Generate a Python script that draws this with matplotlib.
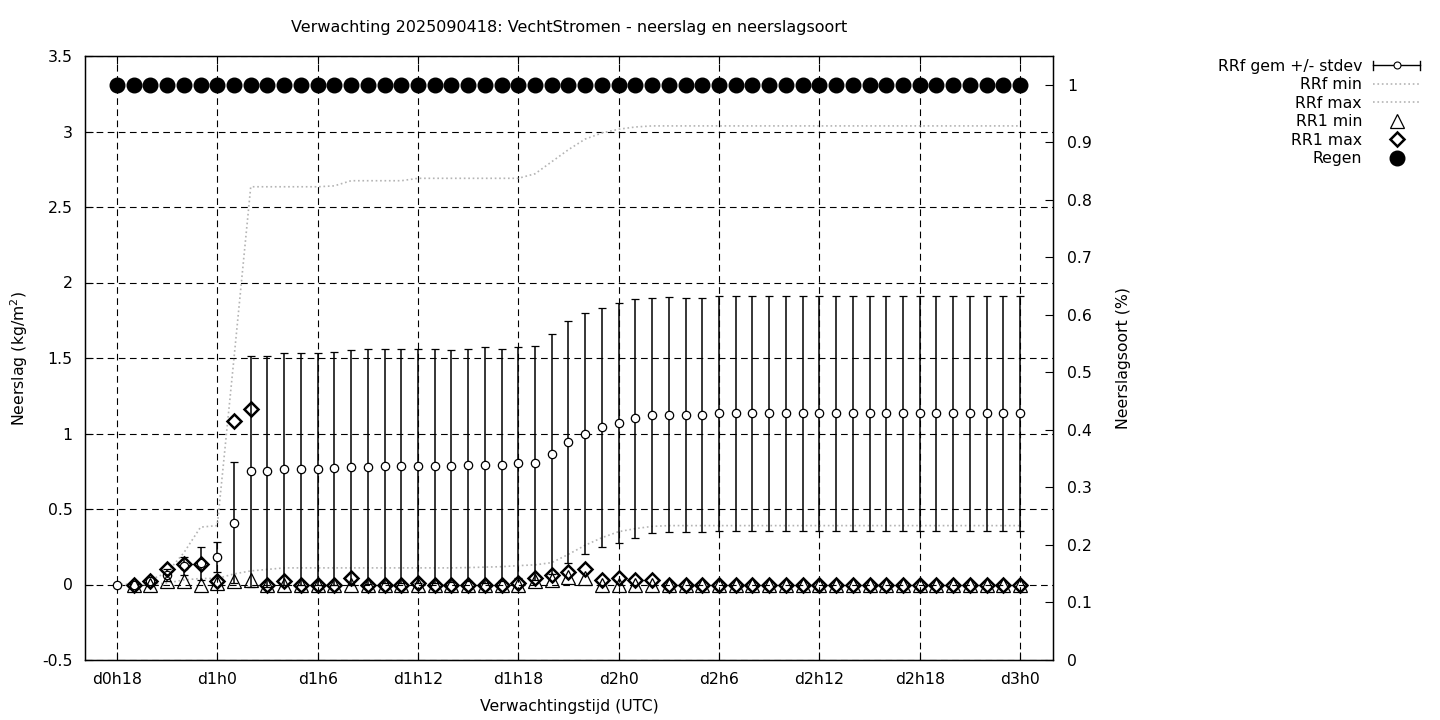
import numpy as np
import matplotlib
matplotlib.use('Agg')
import matplotlib.pyplot as plt
from matplotlib.lines import Line2D
from matplotlib.ticker import FuncFormatter

plt.rcParams['axes.unicode_minus'] = False
plt.rcParams['font.family'] = ['DejaVu Sans']

# uren na de run van 2025090418 (d0h18 .. d3h0)
uren = list(range(18, 73))

# RRf gemiddelde en standaarddeviatie (kg/m2)
rrf_gem = [0.0, 0.0, 0.02, 0.06, 0.12, 0.14, 0.18, 0.41, 0.75, 0.75,
           0.765, 0.765, 0.765, 0.77, 0.775, 0.78, 0.783, 0.783, 0.783, 0.783,
           0.783, 0.79, 0.79, 0.79, 0.805, 0.805, 0.864, 0.944, 1.0, 1.04,
           1.067, 1.10, 1.12, 1.125, 1.125, 1.125, 1.134, 1.134, 1.134, 1.134,
           1.134, 1.134, 1.134, 1.134, 1.134, 1.134, 1.134, 1.134, 1.134, 1.134,
           1.134, 1.134, 1.134, 1.134, 1.134]
rrf_std = [0.0, 0.01, 0.02, 0.04, 0.06, 0.11, 0.10, 0.40, 0.765, 0.765,
           0.765, 0.765, 0.765, 0.77, 0.775, 0.777, 0.774, 0.774, 0.774, 0.774,
           0.767, 0.767, 0.78, 0.767, 0.765, 0.772, 0.796, 0.80, 0.80, 0.79,
           0.795, 0.79, 0.78, 0.777, 0.775, 0.775, 0.779, 0.779, 0.779, 0.779,
           0.779, 0.779, 0.779, 0.779, 0.779, 0.779, 0.779, 0.779, 0.779, 0.779,
           0.779, 0.779, 0.779, 0.779, 0.779]

# RRf min / max (kg/m2)
rrf_min = [0.0, 0.0, 0.0, 0.01, 0.03, 0.04, 0.04, 0.07, 0.09, 0.10,
           0.11, 0.11, 0.11, 0.11, 0.11, 0.11, 0.11, 0.11, 0.11, 0.11,
           0.11, 0.112, 0.115, 0.118, 0.125, 0.13, 0.145, 0.20, 0.26, 0.31,
           0.35, 0.37, 0.385, 0.39, 0.39, 0.39, 0.39, 0.39, 0.39, 0.39,
           0.39, 0.39, 0.39, 0.39, 0.39, 0.39, 0.39, 0.39, 0.39, 0.39,
           0.39, 0.39, 0.39, 0.39, 0.39]
rrf_max = [0.0, 0.0, 0.03, 0.08, 0.21, 0.38, 0.39, 1.5, 2.634, 2.634,
           2.634, 2.634, 2.634, 2.64, 2.674, 2.674, 2.674, 2.674, 2.69, 2.69,
           2.69, 2.69, 2.69, 2.69, 2.69, 2.72, 2.80, 2.88, 2.95, 2.99,
           3.015, 3.03, 3.037, 3.037, 3.037, 3.037, 3.037, 3.037, 3.037, 3.037,
           3.037, 3.037, 3.037, 3.037, 3.037, 3.037, 3.037, 3.037, 3.037, 3.037,
           3.037, 3.037, 3.037, 3.037, 3.037]

# RR1 min / max (kg/m2), geen waarde op d0h18
nan = np.nan
rr1_min = [nan, 0.0, 0.0, 0.02, 0.02, 0.0, 0.01, 0.02, 0.03, 0.0,
           0.0, 0.0, 0.0, 0.0, 0.0, 0.0, 0.0, 0.0, 0.0, 0.0,
           0.0, 0.0, 0.0, 0.0, 0.0, 0.02, 0.03, 0.05, 0.04, 0.0,
           0.0, 0.0, 0.0, 0.0, 0.0, 0.0, 0.0, 0.0, 0.0, 0.0,
           0.0, 0.0, 0.0, 0.0, 0.0, 0.0, 0.0, 0.0, 0.0, 0.0,
           0.0, 0.0, 0.0, 0.0, 0.0]
rr1_max = [nan, 0.0, 0.02, 0.10, 0.135, 0.135, 0.02, 1.08, 1.16, 0.0,
           0.02, 0.0, 0.0, 0.0, 0.04, 0.0, 0.0, 0.0, 0.01, 0.0,
           0.0, 0.0, 0.0, 0.0, 0.01, 0.04, 0.06, 0.08, 0.10, 0.03,
           0.04, 0.03, 0.03, 0.0, 0.0, 0.0, 0.0, 0.0, 0.0, 0.0,
           0.0, 0.0, 0.0, 0.0, 0.0, 0.0, 0.0, 0.0, 0.0, 0.0,
           0.0, 0.0, 0.0, 0.0, 0.0]

# neerslagsoort regen (fractie)
regen = [1, 1, 1, 1, 1, 1, 1, 1, 1, 1,
         1, 1, 1, 1, 1, 1, 1, 1, 1, 1,
         1, 1, 1, 1, 1, 1, 1, 1, 1, 1,
         1, 1, 1, 1, 1, 1, 1, 1, 1, 1,
         1, 1, 1, 1, 1, 1, 1, 1, 1, 1,
         1, 1, 1, 1, 1]

xticks = [18, 24, 30, 36, 42, 48, 54, 60, 66, 72]
xlabels = ['d0h18', 'd1h0', 'd1h6', 'd1h12', 'd1h18',
           'd2h0', 'd2h6', 'd2h12', 'd2h18', 'd3h0']


class ErrorbarHandler:
    # horizontale foutbalk zoals in gnuplot
    def legend_artist(self, legend, orig_handle, fontsize, handlebox):
        x0 = -handlebox.xdescent
        w = handlebox.width
        yc = -handlebox.ydescent + handlebox.height / 2
        tr = handlebox.get_transform()
        lijn = Line2D([x0, x0 + w], [yc, yc], color='k', lw=1, transform=tr)
        handlebox.add_artist(lijn)
        for xc in (x0, x0 + w):
            handlebox.add_artist(Line2D([xc, xc], [yc - 3, yc + 3], color='k',
                                        lw=1, transform=tr))
        handlebox.add_artist(Line2D([x0 + w / 2], [yc], marker='o', ms=5,
                                    mfc='white', mec='k', mew=0.8,
                                    transform=tr))
        return lijn


fig = plt.figure(figsize=(14.4, 7.2), dpi=100)
ax = fig.add_axes([85 / 1440, 60 / 720, 968 / 1440, 604 / 720])
ax2 = ax.twinx()

ax.errorbar(uren, rrf_gem, yerr=rrf_std, fmt='o', ms=6, mfc='white', mec='k',
            mew=0.9, ecolor='k', elinewidth=1.1, capsize=3, capthick=1.1,
            zorder=3)
l_min, = ax.plot(uren, rrf_min, color='#b4b4b4', ls=':', lw=1.2, zorder=2)
l_max, = ax.plot(uren, rrf_max, color='#b4b4b4', ls=':', lw=1.2, zorder=2)
l_tri, = ax.plot(uren, rr1_min, ls='none', marker='^', ms=10, mfc='none',
                 mec='k', mew=0.9, zorder=4)
l_dia, = ax.plot(uren, rr1_max, ls='none', marker='D', ms=7.5, mfc='none',
                 mec='k', mew=1.8, zorder=5)
l_reg, = ax2.plot(uren, regen, ls='none', marker='o', ms=10.5, color='k')

ax.set_xlim(16.09, 73.97)
ax.set_ylim(-0.5, 3.5)
ax2.set_ylim(0, 1.05)

ax.set_xticks(xticks)
ax.set_xticklabels(xlabels)
ax.set_yticks(np.arange(-0.5, 3.51, 0.5))
ax2.set_yticks(np.arange(0, 1.01, 0.1))
fmt = FuncFormatter(lambda v, p: '%g' % round(v, 2))
ax.yaxis.set_major_formatter(fmt)
ax2.yaxis.set_major_formatter(fmt)

ax.grid(True, color='k', ls=(0, (6, 4)), lw=0.8)
ax.tick_params(direction='in', length=6, top=True, right=False,
               labelsize=11.3, pad=9)
ax2.tick_params(direction='in', length=6, labelsize=11.3, pad=10)
for sp in ax.spines.values():
    sp.set_linewidth(1)

ax.set_title('Verwachting 2025090418: VechtStromen - neerslag en neerslagsoort',
             fontsize=11.5, pad=17)
ax.set_xlabel('Verwachtingstijd (UTC)', fontsize=11.3)
ax.xaxis.set_label_coords(0.5, -0.064)
ax.set_ylabel('Neerslag (kg/m$^2$)', fontsize=11.3)
ax.yaxis.set_label_coords(-0.057, 0.5)
ax2.set_ylabel('Neerslagsoort (%)', fontsize=11.3)
ax2.yaxis.set_label_coords(1.065, 0.5)

h_err = Line2D([], [])
fig.legend([h_err, l_min, l_max, l_tri, l_dia, l_reg],
           ['RRf gem +/- stdev', 'RRf min', 'RRf max', 'RR1 min', 'RR1 max', 'Regen'],
           loc='upper right', bbox_to_anchor=(1428 / 1440, 1 - 51 / 720),
           frameon=False, markerfirst=False, handlelength=3, handletextpad=0.7,
           labelspacing=0.22, borderpad=0, fontsize=11.3, numpoints=1,
           handler_map={h_err: ErrorbarHandler()})

fig.savefig('out.png', dpi=100)
